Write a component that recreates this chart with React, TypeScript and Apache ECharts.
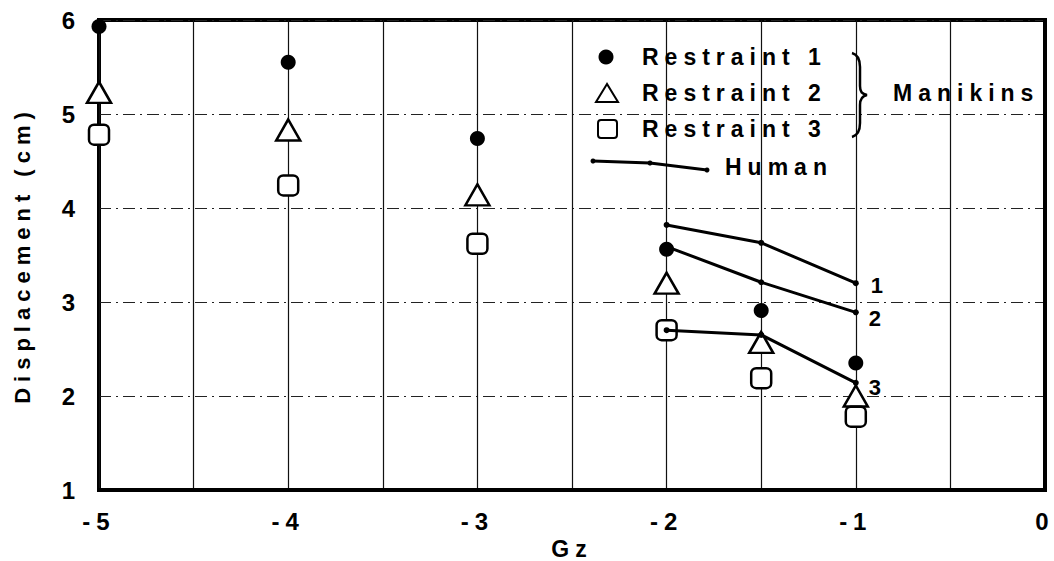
import React, { useEffect, useRef } from 'react';
import * as echarts from 'echarts';

// ---- data ----
const gz = [-5, -4, -3, -2, -1.5, -1];
const restraint1 = [5.93, 5.55, 4.74, 3.56, 2.91, 2.35];
const restraint2 = [5.23, 4.83, 4.14, 3.2, 2.57, 2.0];
const restraint3 = [4.78, 4.24, 3.62, 2.7, 2.19, 1.78];
const humanGz = [-2, -1.5, -1];
const human1 = [3.82, 3.63, 3.2];
const human2 = [3.59, 3.21, 2.89];
const human3 = [2.7, 2.65, 2.14];
const humanLabels = ['1', '2', '3'];
const legendNames = ['Restraint 1', 'Restraint 2', 'Restraint 3'];
const xTitle = 'Gz';
const yTitle = 'Displacement (cm)';

const FONT = '"Liberation Sans", Arial, Helvetica, sans-serif';

echarts.graphic.registerShape(
  'brace',
  echarts.graphic.extendPath(
    'M0,0 C7,2 8,8 8,14 L8,33 C8,39 10,41 15,42 C10,43 8,46 8,52 L8,70 C8,76 7,82 0,84',
    {}
  )
);

const pairs = (xs: number[], ys: number[]) => xs.map((x, i) => [x, ys[i]]);

const humanSets = [human1, human2, human3];
const labelOffsets = [
  [2, 2],
  [0, 6],
  [0, 5],
];

function buildOption(): any {
  const textBase = { color: '#000', fontFamily: FONT, fontWeight: 'bold' };
  const series: any[] = [
    {
      name: legendNames[0],
      type: 'scatter',
      data: pairs(gz, restraint1),
      symbol: 'circle',
      symbolSize: 15,
      itemStyle: { color: '#000', opacity: 1 },
      z: 3,
    },
    {
      name: legendNames[1],
      type: 'scatter',
      data: pairs(gz, restraint2),
      symbol: 'triangle',
      symbolSize: [24, 21],
      itemStyle: { color: '#fff', borderColor: '#000', borderWidth: 2.5, opacity: 1 },
      z: 3,
    },
    {
      name: legendNames[2],
      type: 'scatter',
      data: pairs(gz, restraint3),
      symbol: 'roundRect',
      symbolSize: [20, 20],
      itemStyle: { color: '#fff', borderColor: '#000', borderWidth: 2.5, opacity: 1 },
      z: 3,
    },
  ];
  humanSets.forEach((set, k) => {
    series.push({
      name: 'Human ' + humanLabels[k],
      type: 'line',
      data: pairs(humanGz, set),
      symbol: 'circle',
      symbolSize: 6,
      showSymbol: true,
      lineStyle: { color: '#000', width: 3 },
      itemStyle: { color: '#000' },
      z: 4,
      label: {
        show: true,
        position: 'right',
        distance: 10,
        offset: labelOffsets[k],
        formatter: (p: any) => (p.dataIndex === set.length - 1 ? humanLabels[k] : ''),
        ...textBase,
        fontSize: 22,
      },
    });
  });

  const legendText = (text: string, x: number, y: number) => ({
    type: 'text',
    x,
    y,
    z: 10,
    style: {
      text,
      fill: '#000',
      font: 'bold 23px ' + FONT,
      verticalAlign: 'middle',
      textVerticalAlign: 'middle',
    },
  });

  return {
    animation: false,
    backgroundColor: '#fff',
    grid: {
      left: 99,
      right: 9,
      top: 20,
      bottom: 71,
      show: true,
      borderColor: '#000',
      borderWidth: 4,
      backgroundColor: 'transparent',
      containLabel: false,
      outerBoundsMode: 'none',
    },
    xAxis: {
      type: 'value',
      min: -5,
      max: 0,
      interval: 0.5,
      name: xTitle,
      nameLocation: 'middle',
      nameGap: 40,
      nameTextStyle: { ...textBase, fontSize: 23 },
      axisLine: { show: true, lineStyle: { color: '#000', width: 4 } },
      axisTick: { show: false },
      axisLabel: {
        ...textBase,
        fontSize: 24,
        margin: 19,
        formatter: (v: number) => (Number.isInteger(v) ? String(v) : ''),
      },
      splitLine: { show: true, lineStyle: { color: '#111', width: 1.2 } },
    },
    yAxis: {
      type: 'value',
      min: 1,
      max: 6,
      interval: 1,
      name: yTitle,
      nameLocation: 'middle',
      nameGap: 66,
      nameTextStyle: { ...textBase, fontSize: 22 },
      axisLine: { show: true, lineStyle: { color: '#000', width: 4 } },
      axisTick: { show: false },
      axisLabel: { ...textBase, fontSize: 24, margin: 18 },
      splitLine: {
        show: true,
        lineStyle: { color: '#222', width: 1, type: [12, 5, 2, 5] },
      },
    },
    graphic: [
      { type: 'circle', z: 10, shape: { cx: 606, cy: 57, r: 7.5 }, style: { fill: '#000' } },
      {
        type: 'polygon',
        z: 10,
        shape: { points: [[607, 84], [596, 102], [618, 102]] },
        style: { fill: '#fff', stroke: '#000', lineWidth: 2 },
      },
      {
        type: 'rect',
        z: 10,
        shape: { x: 598, y: 120, width: 19, height: 18, r: 3 },
        style: { fill: '#fff', stroke: '#000', lineWidth: 2 },
      },
      legendText(legendNames[0], 642, 57),
      legendText(legendNames[1], 642, 93),
      legendText(legendNames[2], 642, 129),
      {
        type: 'polyline',
        z: 10,
        shape: { points: [[593, 161], [650, 163], [707, 170]] },
        style: { stroke: '#000', lineWidth: 3, fill: null },
      },
      { type: 'circle', z: 10, shape: { cx: 593, cy: 161, r: 2.5 }, style: { fill: '#000' } },
      { type: 'circle', z: 10, shape: { cx: 650, cy: 163, r: 2.5 }, style: { fill: '#000' } },
      { type: 'circle', z: 10, shape: { cx: 707, cy: 170, r: 2.5 }, style: { fill: '#000' } },
      legendText('Human', 725, 167),
      {
        type: 'brace',
        z: 10,
        x: 852,
        y: 53,
        style: { stroke: '#000', lineWidth: 2.5, fill: null },
      },
      legendText('Manikins', 893, 93),
    ],
    series,
  };
}

export default function App() {
  const ref = useRef<HTMLDivElement>(null);
  useEffect(() => {
    if (!ref.current) return;
    const chart = echarts.init(ref.current, null, { renderer: 'svg' });
    chart.setOption(buildOption());
    return () => chart.dispose();
  }, []);
  return (
    <div style={{ position: 'absolute', left: 0, top: 0, width: 1054, height: 561, background: '#fff' }}>
      <style>{`.chart-root text { letter-spacing: 6px; }`}</style>
      <div ref={ref} className="chart-root" style={{ width: 1054, height: 561 }} />
    </div>
  );
}
